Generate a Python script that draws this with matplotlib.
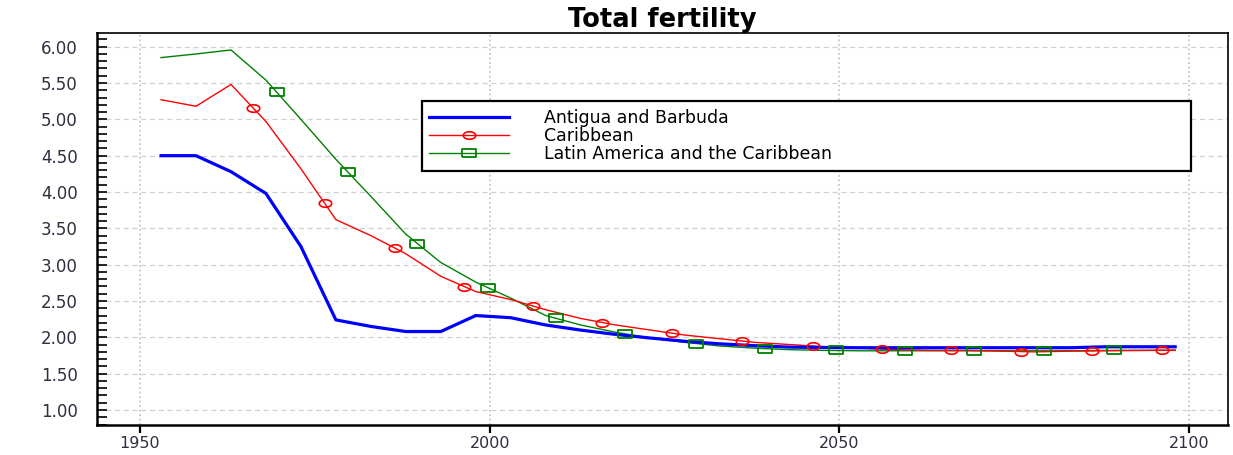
import numpy as np
import matplotlib
matplotlib.use('Agg')
import matplotlib.pyplot as plt
from matplotlib.lines import Line2D
from matplotlib.ticker import MultipleLocator, FormatStrFormatter

# period mid-points (5-year steps)
years = [1953, 1958, 1963, 1968, 1973, 1978, 1983, 1988, 1993, 1998,
         2003, 2008, 2013, 2018, 2023, 2028, 2033, 2038, 2043, 2048,
         2053, 2058, 2063, 2068, 2073, 2078, 2083, 2088, 2093, 2098]

antigua = [4.50, 4.50, 4.28, 3.98, 3.25, 2.24, 2.15, 2.08, 2.08, 2.30,
           2.27, 2.17, 2.10, 2.04, 1.99, 1.945, 1.91, 1.885, 1.865, 1.86,
           1.857, 1.857, 1.857, 1.857, 1.857, 1.857, 1.857, 1.87, 1.87, 1.87]

caribbean = [5.27, 5.18, 5.48, 4.97, 4.32, 3.62, 3.40, 3.15, 2.84, 2.63,
             2.52, 2.38, 2.26, 2.17, 2.10, 2.03, 1.98, 1.93, 1.90, 1.87,
             1.85, 1.83, 1.82, 1.82, 1.81, 1.80, 1.81, 1.815, 1.82, 1.825]

latin_america = [5.85, 5.90, 5.955, 5.54, 5.00, 4.45, 3.94, 3.42, 3.03, 2.76,
                 2.54, 2.30, 2.17, 2.07, 1.99, 1.93, 1.88, 1.85, 1.83, 1.82,
                 1.815, 1.815, 1.815, 1.815, 1.815, 1.815, 1.815, 1.82, 1.82, 1.82]

# marker positions as they appear along the lines
caribbean_marker_years = [1966.2, 1976.4, 1986.4, 1996.3, 2006.2, 2016.1, 2026.0,
                          2036.1, 2046.2, 2056.1, 2066.0, 2075.9, 2086.1, 2096.1]
caribbean_marker_values = [5.15, 3.85, 3.23, 2.69, 2.43, 2.20, 2.06,
                           1.95, 1.88, 1.84, 1.82, 1.805, 1.81, 1.82]

latin_marker_years = [1969.6, 1979.7, 1989.6, 1999.7, 2009.5, 2019.4, 2029.5,
                      2039.4, 2049.5, 2059.4, 2069.3, 2079.3, 2089.3]
latin_marker_values = [5.37, 4.28, 3.29, 2.68, 2.26, 2.05, 1.915,
                       1.845, 1.82, 1.815, 1.815, 1.815, 1.82]

labels = ['Antigua and Barbuda', 'Caribbean', 'Latin America and the Caribbean']
x_ticks = [1950, 2000, 2050, 2100]

BLUE = '#0000ff'
RED = '#ff0000'
GREEN = '#008000'
TICK_COLOR = '#2e2e40'

# wide markers (the original picture is stretched horizontally)
t = np.linspace(0, 2 * np.pi, 41)
ellipse_marker = list(zip(np.cos(t), 0.6 * np.sin(t)))
rect_marker = [(-1, -0.6), (1, -0.6), (1, 0.6), (-1, 0.6), (-1, -0.6)]

fig = plt.figure(figsize=(12.33, 4.55), dpi=100)
ax = fig.add_axes([0.0787, 0.066, 0.9175, 0.8622])

ax.plot(years, latin_america, color=GREEN, linewidth=1.0, zorder=3)
ax.plot(years, caribbean, color=RED, linewidth=1.0, zorder=3)
ax.plot(years, antigua, color=BLUE, linewidth=2.3, zorder=4)

ax.plot(caribbean_marker_years, caribbean_marker_values, linestyle='none',
        marker=ellipse_marker, markersize=9, markerfacecolor='none',
        markeredgecolor=RED, markeredgewidth=1.2, zorder=5)
ax.plot(latin_marker_years, latin_marker_values, linestyle='none',
        marker=rect_marker, markersize=10, markerfacecolor='none',
        markeredgecolor=GREEN, markeredgewidth=1.3, zorder=5)

ax.set_xlim(1943.85, 2105.6)
ax.set_ylim(0.794, 6.193)

ax.set_xticks(x_ticks)
ax.yaxis.set_major_locator(MultipleLocator(0.5))
ax.yaxis.set_minor_locator(MultipleLocator(0.1))
ax.yaxis.set_major_formatter(FormatStrFormatter('%.2f'))
ax.set_yticks([v for v in np.arange(1.0, 6.01, 0.5)])

ax.tick_params(axis='y', which='both', direction='in', length=7, width=1.2,
               left=True, right=False, labelsize=12, labelcolor=TICK_COLOR, pad=14)
ax.tick_params(axis='x', which='major', direction='out', length=6, width=1.6,
               top=False, labelsize=11.5, labelcolor=TICK_COLOR, pad=2)
ax.tick_params(axis='x', which='minor', bottom=False)

ax.grid(axis='y', which='major', color='#d0d0d0', linestyle=(0, (4, 3)), linewidth=0.9)
ax.grid(axis='x', which='major', color='#c8c8c8', linestyle=(0, (1, 1.5)), linewidth=1.3)
ax.set_axisbelow(True)

for side in ['left', 'bottom']:
    ax.spines[side].set_linewidth(1.8)
for side in ['top', 'right']:
    ax.spines[side].set_linewidth(1.2)

ax.set_title('Total fertility', fontsize=18.5, fontweight='bold', pad=4)

handles = [
    Line2D([], [], color=BLUE, linewidth=2.3),
    Line2D([], [], color=RED, linewidth=1.0, marker=ellipse_marker, markersize=9,
           markerfacecolor='none', markeredgecolor=RED, markeredgewidth=1.2),
    Line2D([], [], color=GREEN, linewidth=1.0, marker=rect_marker, markersize=10,
           markerfacecolor='none', markeredgecolor=GREEN, markeredgewidth=1.3),
]
leg = ax.legend(handles, labels, loc='center', mode='expand',
                bbox_to_anchor=(0.2793, 0.6416, 0.6957, 0.1886),
                fontsize=12.5, labelspacing=0.0, handlelength=4.6,
                handletextpad=2.0, borderpad=0.45, numpoints=1,
                fancybox=False, framealpha=1.0, edgecolor='black')
leg.get_frame().set_linewidth(1.6)

fig.savefig('out.png', dpi=100)
